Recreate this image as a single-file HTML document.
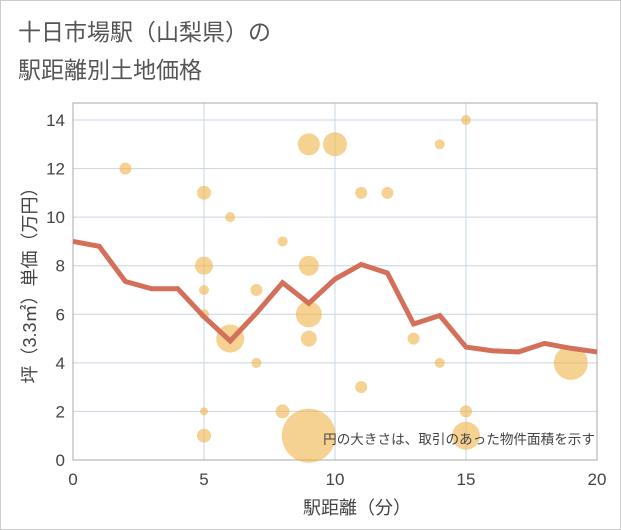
<!DOCTYPE html>
<html><head><meta charset="utf-8"><style>
body{margin:0;background:#fff;}
svg{display:block;font-family:"Liberation Sans","Noto Sans CJK JP",sans-serif;}
</style></head><body>
<svg id="c" width="621" height="530">
<rect x="0.5" y="0.5" width="620" height="529" fill="#fff" stroke="#ccc"/>
<text x="18" y="40" font-size="23" fill="#555">十日市場駅（山梨県）の</text>
<text x="18" y="78" font-size="23" fill="#555">駅距離別土地価格</text>
<g id="grid"></g>
<g id="bubbles"></g>
<g id="line"></g>
<g id="ticks"></g>
<text x="595" y="444" font-size="13.6" fill="#444" text-anchor="end">円の大きさは、取引のあった物件面積を示す</text>
<text x="357" y="514" font-size="18" fill="#444" text-anchor="middle">駅距離（分）</text>
<text transform="translate(36,281) rotate(-90)" font-size="18" fill="#444" text-anchor="middle">坪（3.3㎡）単価（万円）</text>
</svg>
<script>
const xTicks=[0,5,10,15,20];
const yTicks=[0,2,4,6,8,10,12,14];
const bubbleX=[2,5,5,5,5,5,5,6,6,7,7,8,8,9,9,9,9,9,10,11,11,12,13,14,14,15,15,15,19];
const bubbleY=[12,11,8,7,6,2,1,10,5,7,4,9,2,13,8,6,5,1,13,11,3,11,5,13,4,14,2,1,4];
const bubbleSize=[36,49,81,25,25,16,49,25,196,36,25,25,49,121,100,169,64,729,144,36,36,36,36,25,25,25,36,196,289];
const lineX=[0,1,2,3,4,5,6,7,8,9,10,11,12,13,14,15,16,17,18,19,20];
const lineY=[9.0,8.8,7.35,7.05,7.05,5.9,4.9,6.05,7.3,6.45,7.45,8.05,7.7,5.6,5.95,4.65,4.5,4.45,4.8,4.6,4.45];
const L=73,R=597,T=103,B=460;
const sx=v=>L+(v-0)/20*(R-L);
const sy=v=>B-v/14*(B-120);
const NS='http://www.w3.org/2000/svg';
function mk(t,a,p){const e=document.createElementNS(NS,t);for(const k in a)e.setAttribute(k,a[k]);p.appendChild(e);return e;}
const grid=document.getElementById('grid'),ticks=document.getElementById('ticks');
yTicks.forEach(v=>{const g=mk('line',{x1:L,x2:R,y1:sy(v),y2:sy(v),stroke:'#c8d4e3','stroke-width':1},grid);


const t=mk('text',{x:L-8,y:sy(v)+6,'font-size':17,fill:'#444','text-anchor':'end'},ticks);t.textContent=v;

});
xTicks.forEach(v=>{const g=mk('line',{x1:sx(v),x2:sx(v),y1:T,y2:B,stroke:'#c8d4e3','stroke-width':1},grid);


const t=mk('text',{x:sx(v),y:B+25,'font-size':17,fill:'#444','text-anchor':'middle'},ticks);t.textContent=v;

});
const bx=mk('rect',{x:L,y:T,width:R-L,height:B-T,fill:'none',stroke:'#aaa','stroke-width':1},grid);


const bg=document.getElementById('bubbles');
bubbleX.forEach((x,i)=>{const c=mk('circle',{cx:sx(x),cy:sy(bubbleY[i]),r:Math.sqrt(bubbleSize[i]),fill:'#f0b44a','fill-opacity':0.6},bg);

});
const pts=lineX.map((x,i)=>sx(x)+','+sy(lineY[i])).join(' ');
const pl=mk('polyline',{points:pts,fill:'none',stroke:'#d4705a','stroke-width':5,'stroke-linejoin':'miter'},document.getElementById('line'));


</script>
</body></html>
